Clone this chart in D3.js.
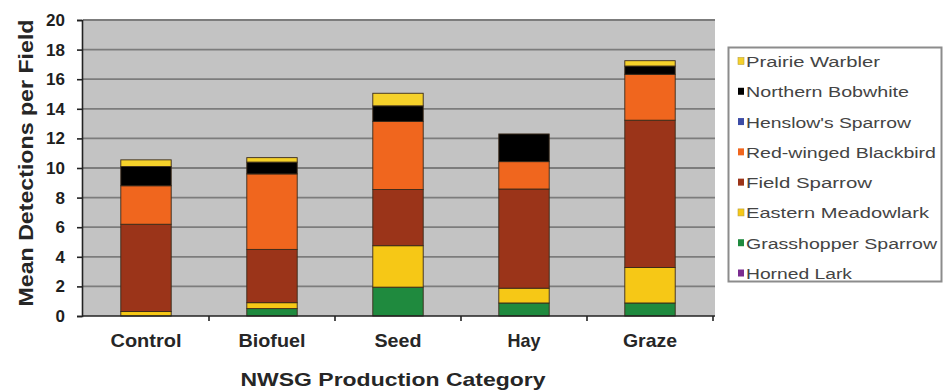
<!DOCTYPE html>
<html>
<head>
<meta charset="utf-8">
<script src="https://cdn.jsdelivr.net/npm/d3@7/dist/d3.min.js"></script>
<style>
  html, body { margin: 0; padding: 0; background: #ffffff; }
  svg { display: block; font-family: Arial, "Liberation Sans", sans-serif; }
</style>
</head>
<body>
<svg id="chart" width="943" height="392"></svg>
<script>
// Production categories along the x axis
const categories = ["Control", "Biofuel", "Seed", "Hay", "Graze"];

// Species, stacked bottom to top
const species = [
  "Horned Lark", "Grasshopper Sparrow", "Eastern Meadowlark", "Field Sparrow",
  "Red-winged Blackbird", "Henslow's Sparrow", "Northern Bobwhite", "Prairie Warbler"
];

// Mean detections per field, one array per species (Control, Biofuel, Seed, Hay, Graze)
const hornedLark          = [0,    0,    0,    0,    0];
const grasshopperSparrow  = [0,    0.5,  1.95, 0.88, 0.88];
const easternMeadowlark   = [0.3,  0.4,  2.8,  1.0,  2.4];
const fieldSparrow        = [5.9,  3.6,  3.8,  6.7,  9.95];
const redWingedBlackbird  = [2.6,  5.1,  4.6,  1.85, 3.1];
const henslowsSparrow     = [0,    0,    0,    0,    0];
const northernBobwhite    = [1.3,  0.8,  1.05, 1.87, 0.56];
const prairieWarbler      = [0.45, 0.3,  0.85, 0,    0.36];

const yTicks = [0, 2, 4, 6, 8, 10, 12, 14, 16, 18, 20];

const seriesValues = [
  hornedLark, grasshopperSparrow, easternMeadowlark, fieldSparrow,
  redWingedBlackbird, henslowsSparrow, northernBobwhite, prairieWarbler
];

const colors = {
  "Horned Lark": "#7a2c90",
  "Grasshopper Sparrow": "#1f8a3e",
  "Eastern Meadowlark": "#f6c816",
  "Field Sparrow": "#9b3419",
  "Red-winged Blackbird": "#f0661e",
  "Henslow's Sparrow": "#3c4ca6",
  "Northern Bobwhite": "#000000",
  "Prairie Warbler": "#f5d12a"
};

// Table for the stack layout
const table = categories.map((c, i) => {
  const row = { category: c };
  species.forEach((s, k) => { row[s] = seriesValues[k][i]; });
  return row;
});

const svg = d3.select("#chart");
const plotLeft = 83, plotRight = 713, plotTop = 20, plotBottom = 316;

const x = d3.scaleBand().domain(categories).range([plotLeft, plotRight]).paddingInner(0.6).paddingOuter(0.3);
const xOuter = d3.scaleBand().domain(categories).range([plotLeft, plotRight]);
const y = d3.scaleLinear().domain([0, 20]).range([plotBottom, plotTop]);

// Plot area
svg.append("rect")
  .attr("x", plotLeft).attr("y", plotTop)
  .attr("width", plotRight - plotLeft + 2).attr("height", plotBottom - plotTop)
  .attr("fill", "#c3c3c3");

// Horizontal gridlines
svg.append("g")
  .selectAll("line")
  .data(yTicks.filter(t => t > 0))
  .join("line")
  .attr("x1", plotLeft).attr("x2", plotRight + 2)
  .attr("y1", d => y(d)).attr("y2", d => y(d))
  .attr("stroke", "#7c7c7c")
  .attr("stroke-width", 1.8);

// Stacked bars
const stack = d3.stack().keys(species);
const layers = stack(table);

svg.append("g")
  .selectAll("g")
  .data(layers)
  .join("g")
  .attr("fill", d => colors[d.key])
  .selectAll("rect")
  .data(d => d.filter(p => p[1] - p[0] > 0))
  .join("rect")
  .attr("x", d => x(d.data.category))
  .attr("width", x.bandwidth())
  .attr("y", d => y(d[1]))
  .attr("height", d => y(d[0]) - y(d[1]))
  .attr("stroke", "#3a2a1a")
  .attr("stroke-width", 0.9);

// Y axis
const yAxis = d3.axisLeft(y).tickValues(yTicks).tickSize(5).tickPadding(12);
const gy = svg.append("g").attr("transform", `translate(${plotLeft - 1},0)`).call(yAxis);
gy.select(".domain").attr("stroke", "#222").attr("stroke-width", 1.6);
gy.selectAll(".tick line").attr("stroke", "#222").attr("stroke-width", 1.6);
gy.selectAll(".tick text")
  .attr("font-size", 17).attr("font-weight", "bold").attr("fill", "#1e1e1e")
  .attr("font-family", "Arial, 'Liberation Sans', sans-serif");

// X axis: baseline plus tick marks between categories
svg.append("line")
  .attr("x1", plotLeft - 1).attr("x2", plotRight + 2)
  .attr("y1", plotBottom).attr("y2", plotBottom)
  .attr("stroke", "#222").attr("stroke-width", 1.6);

svg.append("g")
  .selectAll("line")
  .data(categories.slice(1).concat(["__end"]))
  .join("line")
  .attr("x1", d => d === "__end" ? plotRight : xOuter(d))
  .attr("x2", d => d === "__end" ? plotRight : xOuter(d))
  .attr("y1", plotBottom).attr("y2", plotBottom + 5)
  .attr("stroke", "#222").attr("stroke-width", 1.6);

// Category labels
const labelWidths = { "Control": 71, "Biofuel": 67, "Seed": 47, "Hay": 33, "Graze": 54 };
svg.append("g")
  .selectAll("text")
  .data(categories)
  .join("text")
  .attr("x", d => xOuter(d) + xOuter.bandwidth() / 2)
  .attr("y", 347)
  .attr("text-anchor", "middle")
  .attr("font-size", 19).attr("font-weight", "bold").attr("fill", "#262626")
  .attr("textLength", d => labelWidths[d])
  .attr("lengthAdjust", "spacingAndGlyphs")
  .text(d => d);

// Axis titles
svg.append("text")
  .attr("x", 393).attr("y", 386)
  .attr("text-anchor", "middle")
  .attr("font-size", 19).attr("font-weight", "bold").attr("fill", "#262626")
  .attr("textLength", 305).attr("lengthAdjust", "spacingAndGlyphs")
  .text("NWSG Production Category");

svg.append("text")
  .attr("transform", "translate(33,163) rotate(-90)")
  .attr("text-anchor", "middle")
  .attr("font-size", 20).attr("font-weight", "bold").attr("fill", "#262626")
  .attr("textLength", 287).attr("lengthAdjust", "spacingAndGlyphs")
  .text("Mean Detections per Field");

// Legend (top entry is the top of the stack)
const legendOrder = species.slice().reverse();
const legendWidths = {
  "Prairie Warbler": 134, "Northern Bobwhite": 163, "Henslow's Sparrow": 165,
  "Red-winged Blackbird": 190, "Field Sparrow": 126, "Eastern Meadowlark": 183,
  "Grasshopper Sparrow": 191, "Horned Lark": 106
};
const legendY = d3.scalePoint().domain(legendOrder).range([61, 273]);

svg.append("rect")
  .attr("x", 728.5).attr("y", 47.5)
  .attr("width", 213).attr("height", 234)
  .attr("fill", "#ffffff")
  .attr("stroke", "#8c8c8c").attr("stroke-width", 2);

const items = svg.append("g")
  .selectAll("g")
  .data(legendOrder)
  .join("g")
  .attr("transform", d => `translate(0,${legendY(d)})`);

items.append("rect")
  .attr("x", 738).attr("y", -3.5)
  .attr("width", 6).attr("height", 7)
  .attr("fill", d => colors[d])
  .attr("stroke", d => d === "Prairie Warbler" || d === "Eastern Meadowlark" ? "#b8a040" : "none")
  .attr("stroke-width", 0.6);

items.append("text")
  .attr("x", 746).attr("y", 6)
  .attr("font-size", 15.5).attr("fill", "#444444")
  .attr("textLength", d => legendWidths[d])
  .attr("lengthAdjust", "spacingAndGlyphs")
  .text(d => d);
</script>
</body>
</html>
